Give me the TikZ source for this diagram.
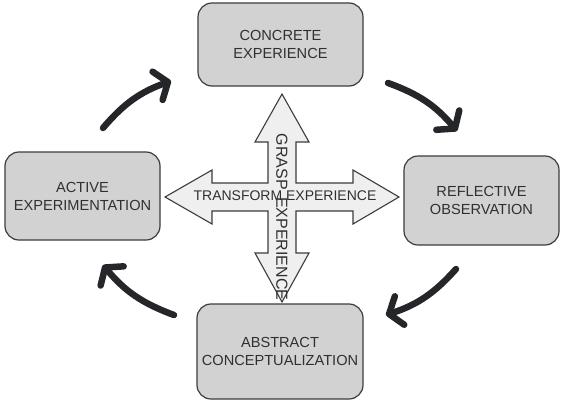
\documentclass[tikz,border=0pt]{standalone}
\usepackage{fontspec}
\setmainfont{Liberation Sans}
\usetikzlibrary{arrows.meta}
\definecolor{boxfill}{HTML}{D2D2D2}
\definecolor{crossfill}{HTML}{EFEFEF}
\definecolor{edge}{HTML}{3C3C3C}
\definecolor{ink}{HTML}{303030}
\definecolor{loopink}{HTML}{25262A}
\tikzset{
	stage/.style={draw=edge, line width=1.2pt, fill=boxfill, rounded corners=14pt,
		inner sep=0pt, align=center, text=ink, font=\fontsize{14.6}{18}\selectfont},
	cyclearrow/.style={draw=loopink, line width=6.5pt, line cap=round,
		-{Straight Barb[length=11pt,width=30pt,line cap=round,line join=round]}}
}
\begin{document}
\begin{tikzpicture}[x=1pt, y=-1pt]
	\useasboundingbox (0, 0) rectangle (564, 402);
	% the four stages
	\node[stage, minimum width=165pt, minimum height=83pt] (concrete) at (280.5, 44.5) {CONCRETE\\EXPERIENCE};
	\node[stage, minimum width=155pt, minimum height=89pt] (reflective) at (481.5, 200.5) {REFLECTIVE\\OBSERVATION};
	\node[stage, minimum width=166pt, minimum height=95pt] (abstract) at (280, 351.5) {ABSTRACT\\CONCEPTUALIZATION};
	\node[stage, minimum width=155pt, minimum height=88pt] (active) at (82.5, 196) {ACTIVE\\EXPERIMENTATION};
	% the cross in the middle
	\draw[draw=edge, line width=1.1pt, fill=crossfill, line join=miter]
		(282, 94) -- (309, 142) -- (296, 142) -- (296, 183) -- (353, 183) -- (353, 170)
		-- (399, 197) -- (353, 224) -- (353, 211) -- (296, 211) -- (296, 253) -- (309, 253)
		-- (282, 302) -- (255, 253) -- (268, 253) -- (268, 211) -- (212, 211) -- (212, 224)
		-- (165, 197) -- (212, 170) -- (212, 183) -- (268, 183) -- (268, 142) -- (255, 142) -- cycle;
	\node[text=ink, font=\fontsize{14}{16}\selectfont] (transform) at (285, 196) {TRANSFORM EXPERIENCE};
	\node[text=ink, font=\fontsize{16}{18}\selectfont, rotate=-90] (grasp) at (282, 217) {GRASP\hspace{3pt} EXPERIENCE};
	% the cycle
	\coordinate (a1) at (103, 128);
	\coordinate (a2) at (171, 81);
	\coordinate (b1) at (388, 83);
	\coordinate (b2) at (457, 131);
	\coordinate (c1) at (456, 269);
	\coordinate (c2) at (386, 315);
	\coordinate (d1) at (174, 315);
	\coordinate (d2) at (103, 265);
	\draw[cyclearrow] (a1) to[bend left=15] (a2);
	\draw[cyclearrow] (b1) to[bend left=15] (b2);
	\draw[cyclearrow] (c1) to[bend left=15] (c2);
	\draw[cyclearrow] (d1) to[bend left=15] (d2);
\end{tikzpicture}
\end{document}
